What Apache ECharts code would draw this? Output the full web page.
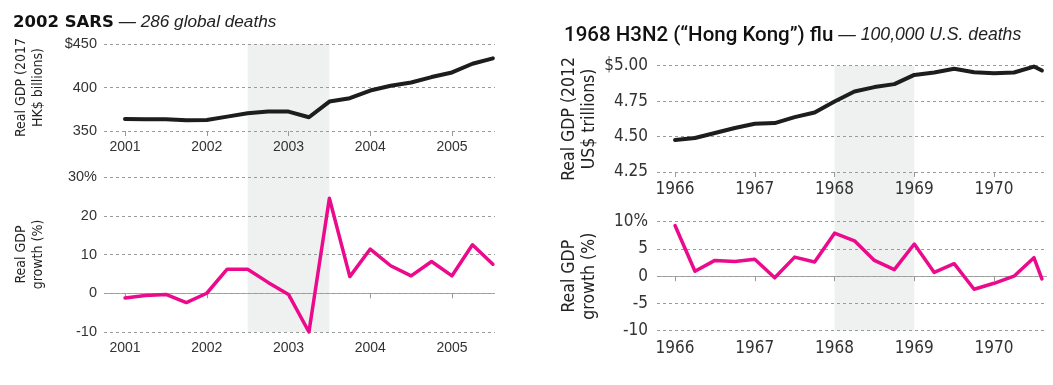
<!DOCTYPE html>
<html><head><meta charset="utf-8">
<script src="https://cdn.jsdelivr.net/npm/echarts@6/dist/echarts.min.js"></script>
<style>html,body{margin:0;padding:0;background:#fff}#c{width:1053px;height:385px}</style>
</head><body><div id="c"></div>
<script>
// ---- data ----
const sarsQuarters = [2001.0, 2001.25, 2001.5, 2001.75, 2002.0, 2002.25, 2002.5, 2002.75, 2003.0, 2003.25, 2003.5, 2003.75, 2004.0, 2004.25, 2004.5, 2004.75, 2005.0, 2005.25, 2005.5];
const sarsGdp = [363.8, 363.5, 363.5, 362.3, 362.7, 366.5, 370.4, 372.3, 372.3, 365.8, 383.8, 387.7, 396.5, 402, 405.8, 412, 417.3, 427.3, 433.5];
const sarsGrowth = [-1.2, -0.6, -0.3, -2.4, 0, 6.2, 6.2, 2.8, -0.3, -10, 24.5, 4.3, 11.4, 7.1, 4.5, 8.2, 4.5, 12.5, 7.5];
const sarsYearTicks = [2001, 2002, 2003, 2004, 2005];
const sarsOutbreak = [2002.5, 2003.5];

const fluQuarters = [1966.0, 1966.25, 1966.5, 1966.75, 1967.0, 1967.25, 1967.5, 1967.75, 1968.0, 1968.25, 1968.5, 1968.75, 1969.0, 1969.25, 1969.5, 1969.75, 1970.0, 1970.25, 1970.5, 1970.6];
const fluGdp = [4.475, 4.49, 4.525, 4.56, 4.59, 4.595, 4.637, 4.67, 4.748, 4.818, 4.849, 4.87, 4.935, 4.952, 4.978, 4.954, 4.947, 4.952, 4.994, 4.966];
const fluGrowth = [9.3, 0.9, 2.9, 2.7, 3.1, -0.3, 3.5, 2.6, 7.9, 6.5, 2.9, 1.2, 5.9, 0.7, 2.3, -2.4, -1.3, 0, 3.4, -0.5];
const fluYearTicks = [1966, 1967, 1968, 1969, 1970];
const fluOutbreak = [1968, 1969];

// ---- styling ----
const BLACK = '#1d1d1d', PINK = '#ec0a8c', SHADE = '#eff1f0';
const NARROW = "'Liberation Sans Narrow','Arial Narrow','DejaVu Sans Condensed',sans-serif";
const SANS = "'Liberation Sans',Arial,sans-serif";
const gridLine = {show: true, lineStyle: {color: '#9a9a9a', type: [3, 3], width: 1}};

const SX = {min: 2000.743, max: 2005.526};
const FX = {min: 1965.774, max: 1970.664};

function xAxisFor(gi, rng, ticks, font, size) {
  return {type: 'value', gridIndex: gi, min: rng.min, max: rng.max, z: 10,
    axisLine: {show: false}, splitLine: {show: false},
    axisTick: {show: true, customValues: ticks, length: 5, lineStyle: {color: '#999'}},
    axisLabel: {show: true, customValues: ticks, margin: 9, color: '#333', fontFamily: font, fontSize: size,
      formatter: v => String(Math.round(v))}};
}
function yAxisFor(gi, min, max, interval, fmt, name, font, size, nameSize, margin) {
  return {type: 'value', gridIndex: gi, min, max, interval, z: 10,
    axisLine: {show: false}, axisTick: {show: false}, splitLine: gridLine,
    axisLabel: {color: '#333', fontFamily: font, fontSize: size, margin, formatter: fmt},
    name, nameLocation: 'middle', nameRotate: 90, nameGap: 57,
    nameTextStyle: {color: '#222', fontFamily: NARROW, fontSize: nameSize, lineHeight: nameSize + 3}};
}
const pair = (xs, ys) => xs.map((x, i) => [x, ys[i]]);
const zeroLine = {silent: true, symbol: 'none', label: {show: false},
  lineStyle: {color: '#a8a8a8', type: 'solid', width: 1.2}, data: [{yAxis: 0}]};

const chart = echarts.init(document.getElementById('c'), null, {renderer: 'canvas'});
chart.setOption({
  animation: false,
  backgroundColor: '#fff',
  title: [
    {left: 8, top: 9, text: '{a|2002 SARS}{b| — 286 global deaths}',
     textStyle: {fontWeight: 'normal', rich: {
       a: {fontFamily: "'DejaVu Sans',sans-serif", fontWeight: 'bold', fontSize: 16.5, color: '#111'},
       b: {fontFamily: SANS, fontStyle: 'italic', fontWeight: 'normal', fontSize: 17.2, color: '#222'}}}},
    {left: 559, top: 20, text: '{a|1968 H3N2 (“Hong Kong”) flu}{b| — 100,000 U.S. deaths}',
     textStyle: {fontWeight: 'normal', rich: {
       a: {fontFamily: "Roboto,'Liberation Sans',sans-serif", fontWeight: 500, fontSize: 20.5, color: '#111'},
       b: {fontFamily: SANS, fontStyle: 'italic', fontWeight: 'normal', fontSize: 17.6, color: '#222'}}}}
  ],
  grid: [
    {left: 104, top: 44, width: 391, height: 87},
    {left: 104, top: 177, width: 391, height: 155},
    {left: 657, top: 65.7, width: 390, height: 106.3},
    {left: 657, top: 221.7, width: 390, height: 109},
    {left: 104, top: 44, width: 391, height: 288},
    {left: 657, top: 65.7, width: 390, height: 265}
  ],
  xAxis: [
    xAxisFor(0, SX, sarsYearTicks, SANS, 14),
    xAxisFor(1, SX, sarsYearTicks, SANS, 14),
    xAxisFor(2, FX, fluYearTicks, NARROW, 17),
    xAxisFor(3, FX, fluYearTicks, NARROW, 17),
    {type: 'value', gridIndex: 4, min: SX.min, max: SX.max, show: false},
    {type: 'value', gridIndex: 5, min: FX.min, max: FX.max, show: false}
  ],
  yAxis: [
    yAxisFor(0, 350, 450, 50, v => v === 450 ? '$450' : String(v), 'Real GDP (2017\nHK$ billions)', SANS, 14.5, 14, 7),
    yAxisFor(1, -10, 30, 10, v => v === 30 ? '30%' : String(v), 'Real GDP\ngrowth (%)', SANS, 14.5, 14, 7),
    yAxisFor(2, 4.25, 5, 0.25, v => v === 5 ? '$5.00' : v.toFixed(2), 'Real GDP (2012\nUS$ trillions)', NARROW, 17, 17.5, 9),
    yAxisFor(3, -10, 10, 5, v => v === 10 ? '10%' : String(v), 'Real GDP\ngrowth (%)', NARROW, 17, 17.5, 9),
    {type: 'value', gridIndex: 4, min: 0, max: 1, show: false},
    {type: 'value', gridIndex: 5, min: 0, max: 1, show: false}
  ],
  series: [
    {type: 'line', xAxisIndex: 4, yAxisIndex: 4, z: 1, zlevel: 0, silent: true, symbol: 'none', lineStyle: {opacity: 0},
     data: [[sarsOutbreak[0], 0.5]],
     markArea: {silent: true, z: 1, itemStyle: {color: SHADE}, data: [[{xAxis: sarsOutbreak[0]}, {xAxis: sarsOutbreak[1]}]]}},
    {type: 'line', xAxisIndex: 5, yAxisIndex: 5, z: 1, zlevel: 0, silent: true, symbol: 'none', lineStyle: {opacity: 0},
     data: [[fluOutbreak[0], 0.5]],
     markArea: {silent: true, z: 1, itemStyle: {color: SHADE}, data: [[{xAxis: fluOutbreak[0]}, {xAxis: fluOutbreak[1]}]]}},
    {type: 'line', xAxisIndex: 0, yAxisIndex: 0, z: 20, data: pair(sarsQuarters, sarsGdp), symbol: 'none', clip: false,
     lineStyle: {color: BLACK, width: 4, cap: 'round', join: 'round'}},
    {type: 'line', xAxisIndex: 1, yAxisIndex: 1, z: 20, data: pair(sarsQuarters, sarsGrowth), symbol: 'none', clip: false,
     lineStyle: {color: PINK, width: 3.5, cap: 'round', join: 'round'}, markLine: zeroLine},
    {type: 'line', xAxisIndex: 2, yAxisIndex: 2, z: 20, data: pair(fluQuarters, fluGdp), symbol: 'none', clip: false,
     lineStyle: {color: BLACK, width: 4, cap: 'round', join: 'round'}},
    {type: 'line', xAxisIndex: 3, yAxisIndex: 3, z: 20, data: pair(fluQuarters, fluGrowth), symbol: 'none', clip: false,
     lineStyle: {color: PINK, width: 3.5, cap: 'round', join: 'round'}, markLine: zeroLine}
  ]
});
</script></body></html>
